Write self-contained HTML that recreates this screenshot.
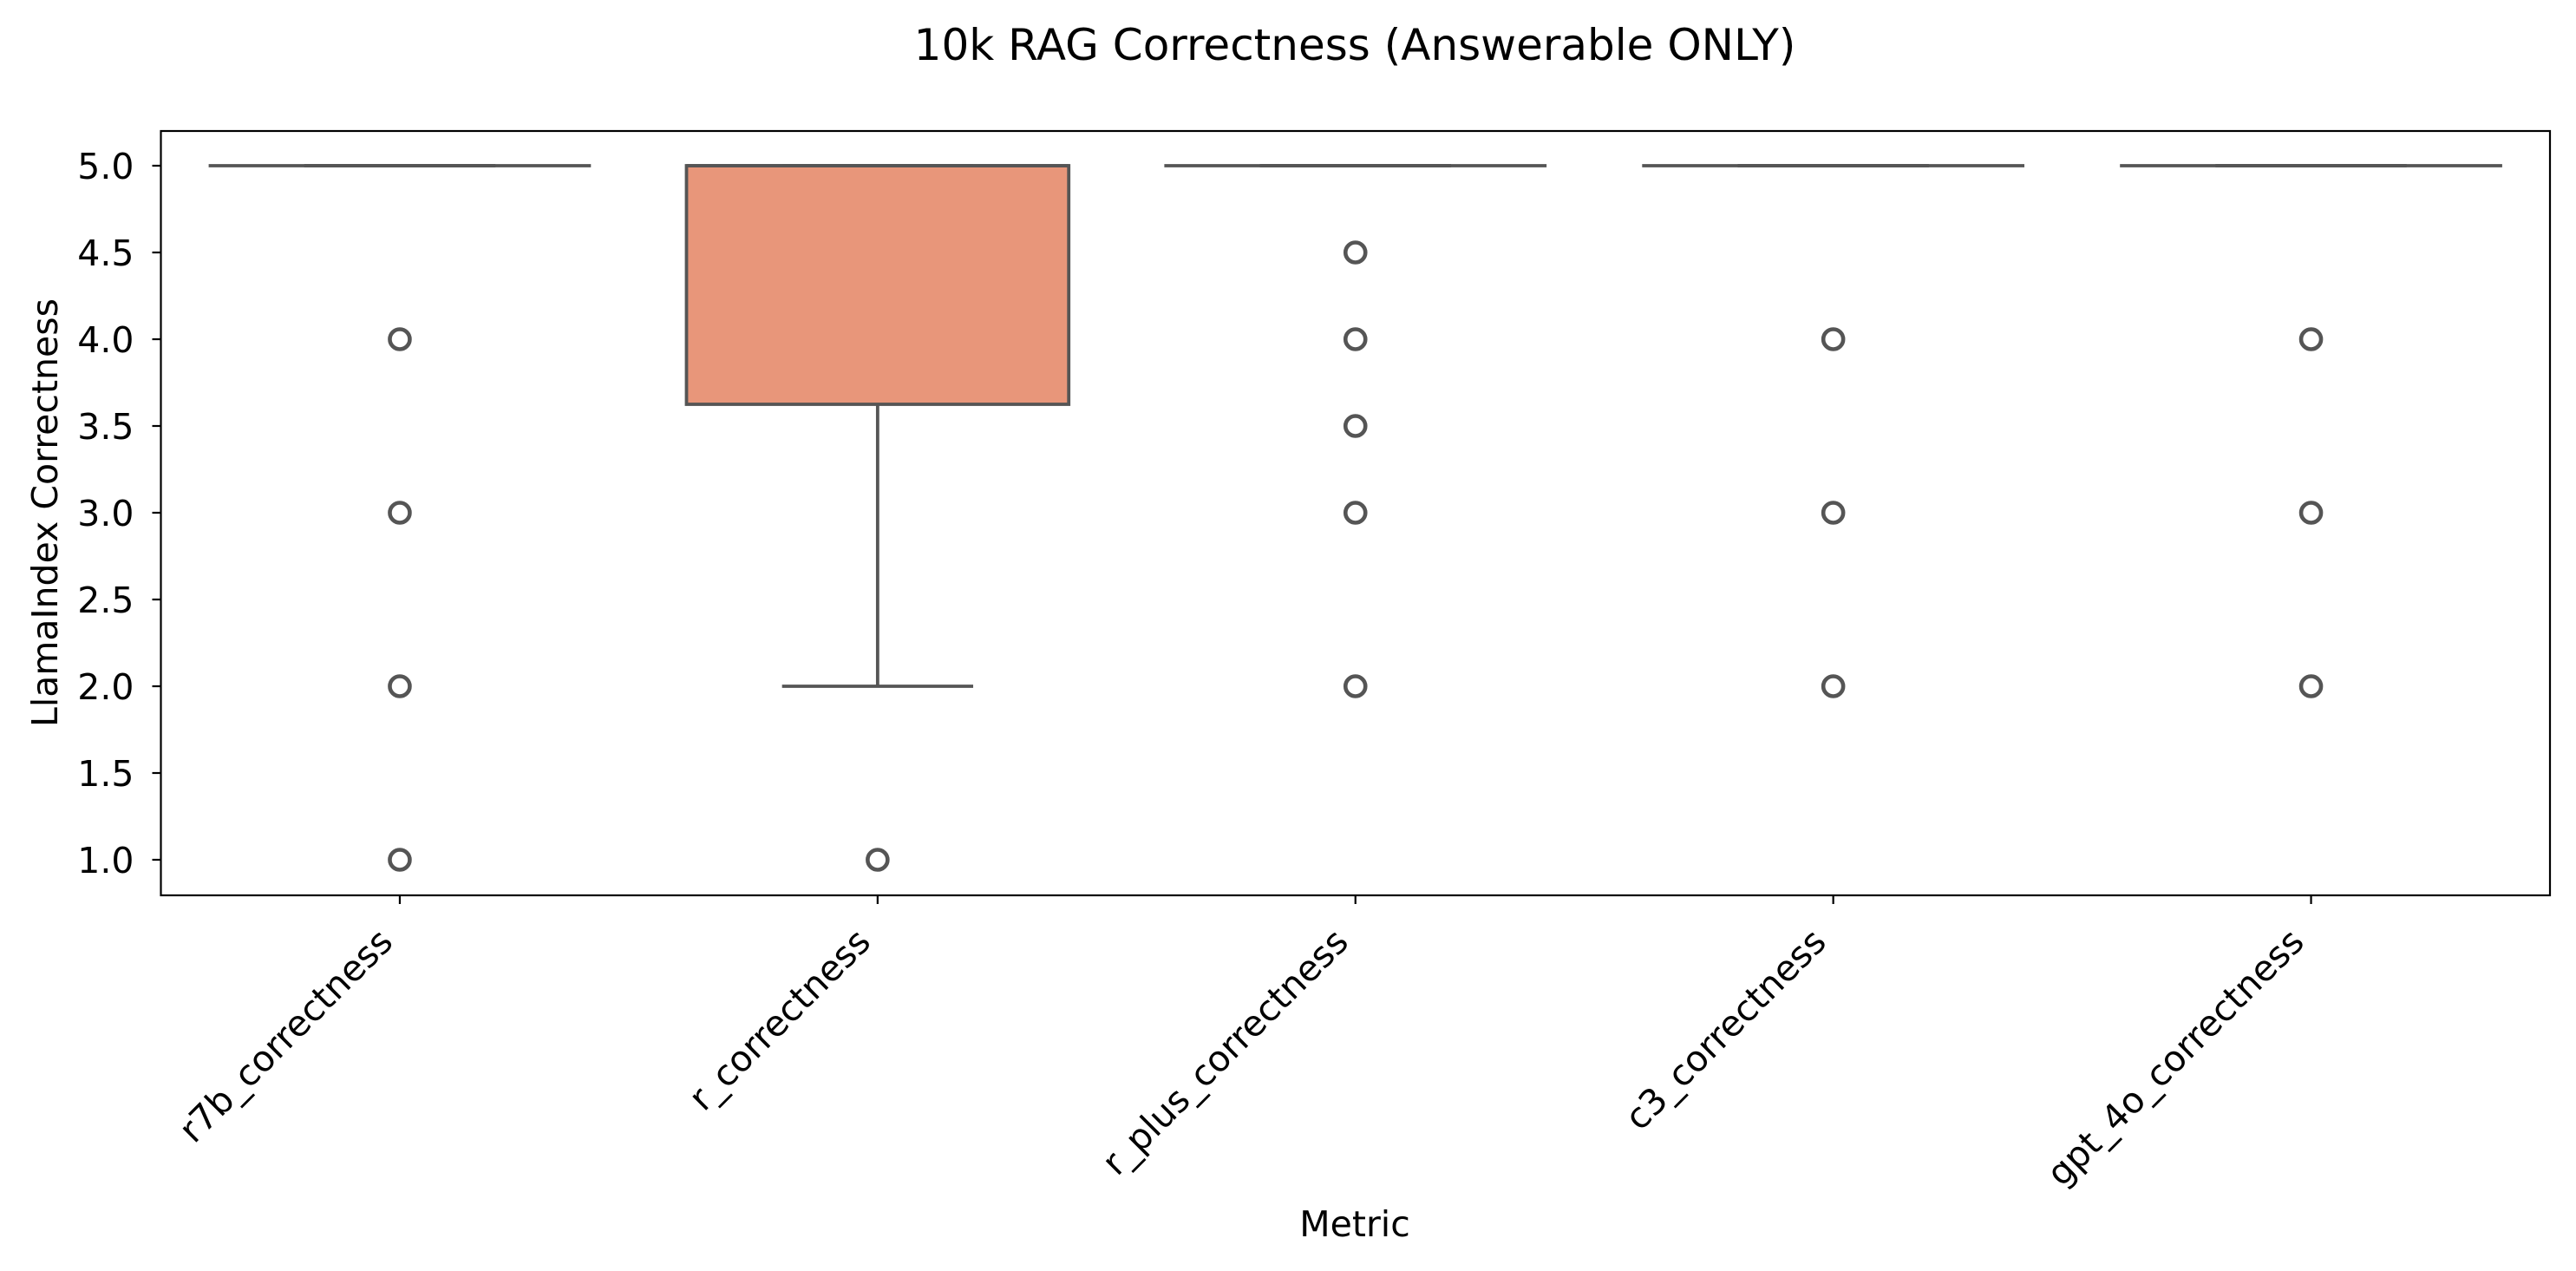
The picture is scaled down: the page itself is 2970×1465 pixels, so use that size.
<!DOCTYPE html>
<html><head><meta charset="utf-8"><style>
html,body{margin:0;padding:0;background:#fff;}
svg{display:block;font-family:"Liberation Sans","DejaVu Sans",sans-serif;}
</style></head><body>
<svg id="chart" width="2970" height="1465" viewBox="0 0 2970 1465" xmlns="http://www.w3.org/2000/svg">
<rect width="2970" height="1465" fill="#fff"/>
<text x="1562" y="69" text-anchor="middle" font-size="50" fill="#000" font-family="DejaVu Sans, sans-serif">10k RAG Correctness (Answerable ONLY)</text>
<g id="plot"></g>
<text x="1562" y="1425" text-anchor="middle" font-size="41" fill="#000" font-family="DejaVu Sans, sans-serif">Metric</text>
<text transform="translate(66,591) rotate(-90)" text-anchor="middle" font-size="41" fill="#000" font-family="DejaVu Sans, sans-serif">LlamaIndex Correctness</text>
</svg>
<script>
const categories = ["r7b_correctness","r_correctness","r_plus_correctness","c3_correctness","gpt_4o_correctness"];
const q1Values = [5, 3.625, 5, 5, 5];
const medianValues = [5, 5, 5, 5, 5];
const q3Values = [5, 5, 5, 5, 5];
const whiskerLow = [5, 2, 5, 5, 5];
const whiskerHigh = [5, 5, 5, 5, 5];
const outliers = [[4,3,2,1],[1],[4.5,4,3.5,3,2],[4,3,2],[4,3,2]];
const yTicks = [1.0,1.5,2.0,2.5,3.0,3.5,4.0,4.5,5.0];
const boxColors = ["#66c2a5","#e8967a","#8da0cb","#e78ac3","#a6d854"];

const L=185.5, R=2940, T=151, B=1032;
const yMin=0.795, yMax=5.2;
const n=categories.length;
const step=(R-L)/n;
function xs(i){return L+step*(i+0.5);}
function ys(v){return B-(v-yMin)/(yMax-yMin)*(B-T);}
const NS="http://www.w3.org/2000/svg";
const g=document.getElementById('plot');
function mk(tag,attrs,parent){const e=document.createElementNS(NS,tag);for(const k in attrs)e.setAttribute(k,attrs[k]);(parent||g).appendChild(e);return e;}
const lc="#555555", lw=3.8;

categories.forEach((c,i)=>{
  const cx=xs(i), hw=step*0.4;
  const grp=mk('g',{});
  
  
  const w1=mk('line',{x1:cx,x2:cx,y1:ys(q1Values[i]),y2:ys(whiskerLow[i]),stroke:lc,'stroke-width':lw},grp);
  
  
  const w2=mk('line',{x1:cx,x2:cx,y1:ys(q3Values[i]),y2:ys(whiskerHigh[i]),stroke:lc,'stroke-width':lw},grp);
  
  
  const c1=mk('line',{x1:cx-hw/2,x2:cx+hw/2,y1:ys(whiskerLow[i]),y2:ys(whiskerLow[i]),stroke:lc,'stroke-width':lw},grp);
  
  
  const c2=mk('line',{x1:cx-hw/2,x2:cx+hw/2,y1:ys(whiskerHigh[i]),y2:ys(whiskerHigh[i]),stroke:lc,'stroke-width':lw},grp);
  
  
  const bx=mk('rect',{x:cx-hw,y:ys(q3Values[i]),width:2*hw,height:Math.max(0,ys(q1Values[i])-ys(q3Values[i])),fill:boxColors[i],stroke:lc,'stroke-width':lw},grp);
  
  
  const md=mk('line',{x1:cx-hw,x2:cx+hw,y1:ys(medianValues[i]),y2:ys(medianValues[i]),stroke:lc,'stroke-width':lw},grp);
  
  
  outliers[i].forEach(v=>{
    const o=mk('circle',{cx:cx,cy:ys(v),r:11.5,fill:'none',stroke:lc,'stroke-width':4.6},grp);
    
    
  });
  const t=mk('line',{x1:cx,x2:cx,y1:B,y2:B+10,stroke:'#000','stroke-width':2.2});
  
  
  const lb=mk('text',{transform:`translate(${cx-6},${B+56}) rotate(-45)`,'text-anchor':'end','font-size':41,fill:'#000','font-family':'DejaVu Sans, sans-serif'});
  lb.textContent=c;
  
  
});

yTicks.forEach(v=>{
  const y=ys(v);
  const t=mk('line',{x1:L-10,x2:L,y1:y,y2:y,stroke:'#000','stroke-width':2.2});
  
  
  const lb=mk('text',{x:L-31,y:y+15,'text-anchor':'end','font-size':41,fill:'#000','font-family':'DejaVu Sans, sans-serif'});
  lb.textContent=v.toFixed(1);
  
  
});

const frame=mk('rect',{x:L,y:T,width:R-L,height:B-T,fill:'none',stroke:'#000','stroke-width':2.2});


</script>
</body></html>
